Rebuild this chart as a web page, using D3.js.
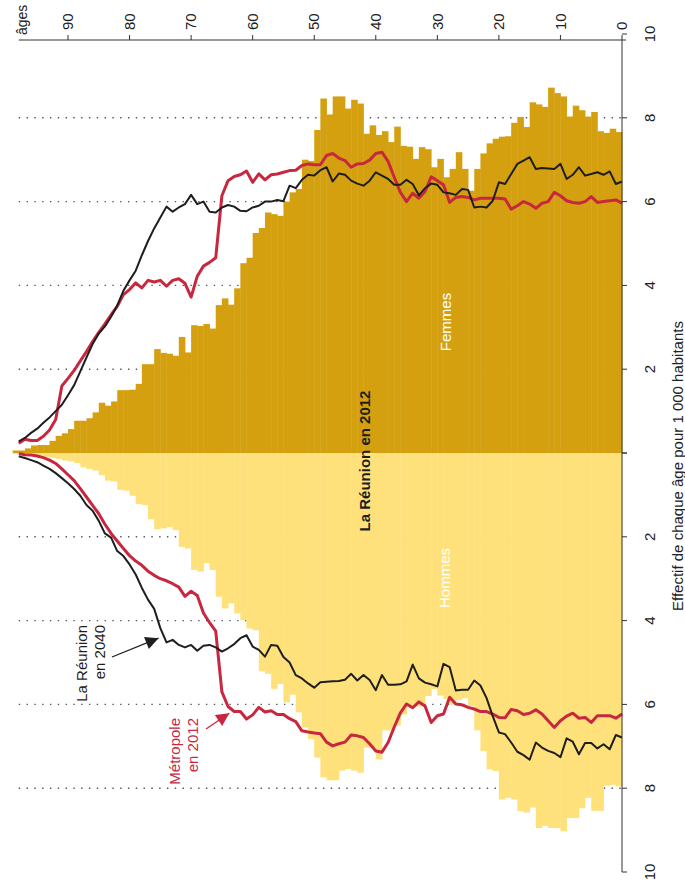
<!DOCTYPE html>
<html>
<head>
<meta charset="utf-8">
<script src="https://cdn.jsdelivr.net/npm/d3@7"></script>
<style>
  body { margin: 0; background: #fff; }
  svg { display: block; font-family: "Liberation Sans", Arial, sans-serif; }
</style>
</head>
<body>
<div class="canvas"></div>
<script>
// ages 0..98, one bar per age
const ages = d3.range(0, 99);

// La Réunion 2012, per 1 000 inhabitants
const femmes = [7.66,7.74,7.64,7.68,8.14,8.03,8.18,8.29,8.03,8.51,
  8.59,8.72,8.26,8.32,8.37,7.78,8.02,7.88,7.56,7.55,
  7.50,7.39,7.15,6.78,6.26,6.78,7.18,6.78,6.58,7.02,
  6.82,7.25,7.30,7.02,7.31,7.33,7.79,7.42,7.68,7.59,
  7.82,7.62,8.34,8.43,8.22,8.51,8.51,8.08,8.46,7.71,
  6.97,7.00,6.30,6.22,6.00,5.66,5.70,5.74,5.37,5.25,
  4.66,4.53,3.93,3.54,3.69,3.53,2.97,3.08,3.03,3.05,
  2.40,2.77,2.32,2.37,2.39,2.48,2.12,2.12,1.65,1.51,
  1.50,1.50,1.23,1.13,1.20,0.97,0.83,0.77,0.77,0.57,
  0.47,0.41,0.29,0.19,0.19,0.18,0.11,0.06,0.06];

const hommes = [7.96,7.92,7.94,8.54,8.54,8.23,8.48,8.71,8.71,9.03,
  8.95,8.95,8.90,8.95,8.46,8.58,8.55,8.27,8.23,8.27,
  7.59,7.55,7.11,6.62,6.04,5.85,5.90,6.00,5.87,5.79,
  5.63,5.80,6.05,6.05,6.07,6.24,6.51,6.62,6.62,7.31,
  7.03,7.03,7.63,7.58,7.54,7.58,7.81,7.81,7.74,7.27,
  6.83,6.55,6.19,5.77,5.95,5.51,5.63,5.27,5.21,4.23,
  4.19,3.99,3.83,3.59,3.71,3.43,2.79,2.63,2.83,2.79,
  2.28,2.24,1.84,1.77,1.80,1.82,1.58,1.24,1.22,1.02,
  0.90,0.88,0.68,0.66,0.53,0.42,0.38,0.34,0.24,0.20,
  0.18,0.14,0.12,0.09,0.06,0.04,0.04,0.02,0.02];

// La Réunion en 2040 (black line)
const reunion2040F = [6.48,6.42,6.72,6.64,6.70,6.66,6.62,6.82,6.64,6.54,
  6.90,6.78,6.79,6.80,6.78,7.06,6.98,6.90,6.66,6.42,
  6.46,6.02,5.86,5.88,5.86,6.28,6.30,6.16,6.20,6.22,
  6.40,6.43,6.32,6.15,6.42,6.52,6.40,6.40,6.54,6.62,
  6.70,6.50,6.38,6.43,6.50,6.64,6.67,6.48,6.82,6.75,
  6.62,6.64,6.52,6.32,6.38,6.01,6.04,6.00,6.00,5.90,
  5.86,5.77,5.78,5.88,5.92,5.86,5.74,5.76,6.00,5.94,
  6.16,5.94,5.86,5.76,5.88,5.62,5.36,5.06,4.72,4.35,
  4.12,3.87,3.52,3.25,3.02,2.85,2.60,2.28,1.95,1.62,
  1.38,1.15,1.00,0.85,0.72,0.58,0.48,0.36,0.28];

const reunion2040H = [6.79,6.73,7.07,6.95,7.05,6.92,6.92,7.19,6.89,6.81,
  7.26,7.16,7.11,7.03,6.91,7.32,7.21,7.13,6.91,6.71,
  6.67,6.28,5.85,5.55,5.43,5.65,5.65,5.67,5.11,5.03,
  5.57,5.52,5.48,5.38,5.05,5.45,5.52,5.53,5.53,5.30,
  5.66,5.42,5.30,5.43,5.27,5.41,5.44,5.45,5.46,5.47,
  5.60,5.50,5.38,5.30,5.00,4.87,4.60,4.58,4.86,4.70,
  4.62,4.35,4.42,4.56,4.66,4.74,4.64,4.58,4.60,4.72,
  4.58,4.64,4.58,4.46,4.52,4.18,3.72,3.50,3.22,2.90,
  2.66,2.46,2.34,2.02,1.92,1.62,1.38,1.24,1.02,0.86,
  0.72,0.60,0.48,0.38,0.30,0.22,0.17,0.12,0.08];

// Métropole en 2012 (red line)
const metropoleF = [5.96,6.04,6.02,6.00,5.98,6.12,6.00,5.96,5.98,6.02,
  6.14,6.22,6.00,5.96,5.84,5.94,6.00,5.90,5.82,6.06,
  6.08,6.08,6.08,6.08,6.04,6.10,6.12,6.10,5.98,6.40,
  6.50,6.59,6.24,6.08,6.20,6.00,6.22,6.58,6.96,7.18,
  7.15,6.99,6.91,6.90,6.82,6.98,7.04,7.15,7.10,6.88,
  6.88,6.90,6.86,6.75,6.74,6.70,6.66,6.64,6.52,6.66,
  6.46,6.73,6.64,6.60,6.50,6.14,4.66,4.55,4.46,4.22,
  3.72,4.05,4.16,4.12,3.98,4.12,4.08,4.12,3.94,4.06,
  3.90,3.78,3.50,3.30,3.08,2.88,2.66,2.42,2.20,1.97,
  1.78,1.60,0.80,0.55,0.40,0.30,0.30,0.33,0.23];

const metropoleH = [6.23,6.33,6.27,6.27,6.27,6.43,6.31,6.33,6.21,6.28,
  6.39,6.55,6.39,6.23,6.13,6.21,6.24,6.15,6.12,6.32,
  6.31,6.23,6.17,6.17,6.11,6.07,6.01,5.99,5.83,6.23,
  6.27,6.43,6.04,5.94,6.08,5.99,6.20,6.54,6.91,7.14,
  7.11,6.94,6.79,6.75,6.73,6.90,6.94,6.99,6.90,6.70,
  6.68,6.66,6.63,6.41,6.34,6.24,6.24,6.15,6.18,6.07,
  6.25,6.35,6.17,6.17,6.05,5.70,4.25,4.05,3.82,3.40,
  3.30,3.42,3.20,3.12,3.05,3.00,2.92,2.82,2.68,2.58,
  2.45,2.28,2.10,1.92,1.70,1.45,1.25,1.05,0.85,0.66,
  0.52,0.38,0.25,0.17,0.11,0.07,0.05,0.04,0.02];

const ageTicks = [0,10,20,30,40,50,60,70,80,90];
const valueTicks = [2,4,6,8,10];

const dims = {width: 685, height: 890};

const svg = d3.select('.canvas')
    .append('svg')
    .attr('width', dims.width)
    .attr('height', dims.height);

// chart is drawn rotated: ages run right to left, women up, men down
const x = d3.scaleLinear().domain([0, 90]).range([622, 68]);
const yF = d3.scaleLinear().domain([0, 10]).range([453, 34]);
const yH = d3.scaleLinear().domain([0, 10]).range([453, 872]);
const axisY = 40;

// dotted grid, behind the bars
const grid = svg.append('g');
[yF, yH].forEach(s => {
    grid.selectAll(null)
        .data(valueTicks.filter(v => v < 10))
        .enter().append('line')
        .attr('x1', x(98)).attr('x2', x(0))
        .attr('y1', d => s(d)).attr('y2', d => s(d))
        .attr('stroke', '#555')
        .attr('stroke-width', 1.4)
        .attr('stroke-dasharray', '1.4 6.4');
});

// bars
const bars = svg.append('g');
bars.selectAll('.f')
    .data(ages).enter().append('rect')
    .attr('class', 'f')
    .attr('x', a => x(a + 1))
    .attr('width', a => x(a) - x(a + 1) + 0.4)
    .attr('y', a => yF(femmes[a]))
    .attr('height', a => yF(0) - yF(femmes[a]))
    .attr('fill', '#d4a010');

bars.selectAll('.h')
    .data(ages).enter().append('rect')
    .attr('class', 'h')
    .attr('x', a => x(a + 1))
    .attr('width', a => x(a) - x(a + 1) + 0.4)
    .attr('y', yH(0))
    .attr('height', a => yH(hommes[a]) - yH(0))
    .attr('fill', '#fee17a');

// lines
const lineF = d3.line().x((d, i) => x(i)).y(d => yF(d));
const lineH = d3.line().x((d, i) => x(i)).y(d => yH(d));

const lines = svg.append('g').attr('fill', 'none').attr('stroke-linejoin', 'round');
lines.append('path').attr('d', lineF(metropoleF)).attr('stroke', '#c8283f').attr('stroke-width', 3);
lines.append('path').attr('d', lineH(metropoleH)).attr('stroke', '#c8283f').attr('stroke-width', 3);
lines.append('path').attr('d', lineF(reunion2040F)).attr('stroke', '#1e1e1e').attr('stroke-width', 2);
lines.append('path').attr('d', lineH(reunion2040H)).attr('stroke', '#1e1e1e').attr('stroke-width', 2);

// axes
const axes = svg.append('g').attr('stroke', '#333').attr('stroke-width', 1);
axes.append('line').attr('x1', x(98)).attr('x2', x(0) + 4).attr('y1', axisY).attr('y2', axisY);
axes.append('line').attr('x1', x(0)).attr('x2', x(0)).attr('y1', axisY).attr('y2', yH(10));
axes.selectAll('.at').data(ageTicks).enter().append('line')
    .attr('x1', d => x(d)).attr('x2', d => x(d))
    .attr('y1', axisY).attr('y2', axisY - 5);
[yF, yH].forEach(s => {
    axes.selectAll(null).data([0].concat(valueTicks)).enter().append('line')
        .attr('x1', x(0)).attr('x2', x(0) + 5)
        .attr('y1', d => s(d)).attr('y2', d => s(d));
});

const rot = (px, py) => `translate(${px},${py}) rotate(-90)`;

const labels = svg.append('g').attr('fill', '#222').style('font-size', '15px');
labels.selectAll('.al').data(ageTicks).enter().append('text')
    .attr('transform', d => rot(x(d), axisY - 10))
    .attr('dy', '0.35em')
    .text(d => d);
labels.append('text')
    .attr('transform', rot(22, 35))
    .attr('dy', '0.35em')
    .style('font-size', '14px')
    .text('âges');

[yF, yH].forEach(s => {
    labels.selectAll(null).data(valueTicks).enter().append('text')
        .attr('transform', d => rot(650, s(d)))
        .attr('text-anchor', 'middle')
        .attr('dy', '0.35em')
        .text(d => d);
});
labels.append('text')
    .attr('transform', rot(678, 466))
    .attr('text-anchor', 'middle')
    .attr('dy', '0.35em')
    .text('Effectif de chaque âge pour 1 000 habitants');

// inner labels
svg.append('text')
    .attr('transform', rot(446, 322))
    .attr('text-anchor', 'middle').attr('dy', '0.35em')
    .attr('fill', '#fff').style('font-size', '15px')
    .text('Femmes');
svg.append('text')
    .attr('transform', rot(445, 578))
    .attr('text-anchor', 'middle').attr('dy', '0.35em')
    .attr('fill', '#fff').style('font-size', '15px')
    .text('Hommes');
svg.append('text')
    .attr('transform', rot(365, 461))
    .attr('text-anchor', 'middle').attr('dy', '0.35em')
    .attr('fill', '#1e1e1e').style('font-size', '15px').style('font-weight', 'bold')
    .text('La Réunion en 2012');

// annotations with arrows
const defs = svg.append('defs');
[['arrK', '#1e1e1e'], ['arrR', '#c8283f']].forEach(([id, c]) => {
    defs.append('marker')
        .attr('id', id)
        .attr('viewBox', '0 0 10 10')
        .attr('refX', 10).attr('refY', 5)
        .attr('markerUnits', 'userSpaceOnUse')
        .attr('markerWidth', 16).attr('markerHeight', 13)
        .attr('orient', 'auto')
        .append('path').attr('d', 'M0,0 L10,5 L0,10 z').attr('fill', c);
});

svg.append('line')
    .attr('x1', 112).attr('y1', 657)
    .attr('x2', x(75.3)).attr('y2', yH(4.42))
    .attr('stroke', '#1e1e1e').attr('stroke-width', 1.3)
    .attr('marker-end', 'url(#arrK)');
svg.append('line')
    .attr('x1', 206).attr('y1', 729)
    .attr('x2', x(63.8)).attr('y2', yH(6.21))
    .attr('stroke', '#c8283f').attr('stroke-width', 1.3)
    .attr('marker-end', 'url(#arrR)');

const note = (lines2, px, py, c) => {
    lines2.forEach((t, i) => {
        svg.append('text')
            .attr('transform', rot(px + i * 18, py))
            .attr('text-anchor', 'end').attr('dy', '0.35em')
            .attr('fill', c).style('font-size', '15px')
            .text(t);
    });
};
note(['La Réunion', 'en 2040'], 82, 625, '#1e1e1e');
note(['Métropole', 'en 2012'], 175, 718, '#c8283f');
</script>
</body>
</html>
